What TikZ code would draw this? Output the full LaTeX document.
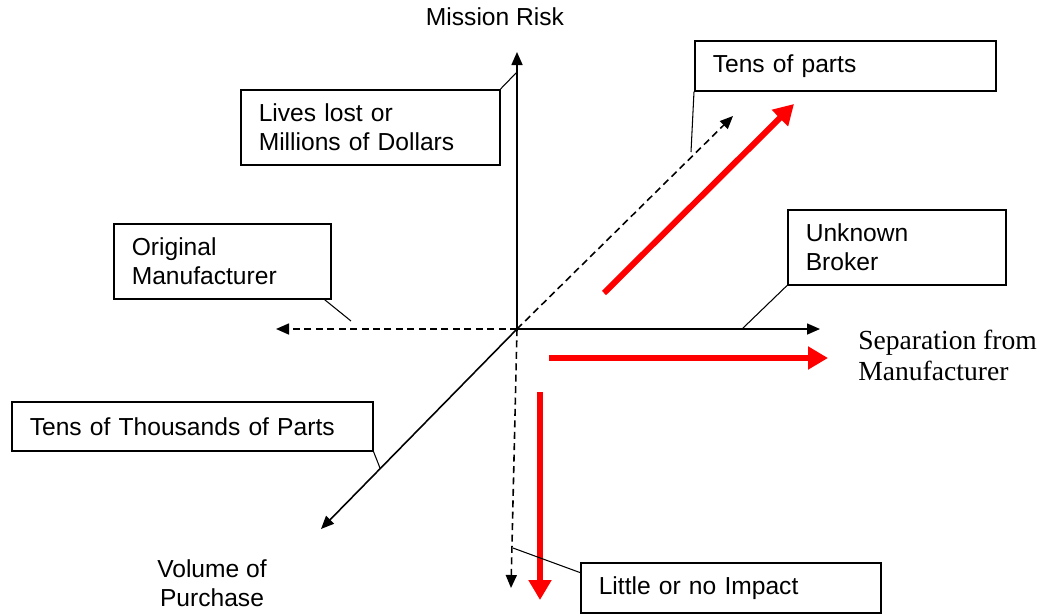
\documentclass[tikz,border=0pt]{standalone}
\usepackage{fontspec}
\setmainfont{Liberation Sans}
\newfontfamily\serifface{Liberation Serif}
\usetikzlibrary{arrows.meta}

\tikzset{
	txtbox/.style={draw, line width=0.9pt, anchor=north west, align=left, inner xsep=0.36cm, inner ysep=0pt, font=\fontsize{14}{16.5}\selectfont},
	axisline/.style={line width=0.9pt, -{Triangle[length=0.26cm, width=0.22cm]}},
	dashaxis/.style={axisline, dash pattern=on 4pt off 2.5pt},
	redarrow/.style={red, line width=3.4pt, -{Triangle[length=0.4cm, width=0.44cm]}},
	callout/.style={line width=0.6pt}
}

\begin{document}
\begin{tikzpicture}[x=0.02cm, y=-0.02cm]
		\useasboundingbox (0,0) rectangle (1041,613);
		
		% axes
		\coordinate (O) at (517,329);
		\coordinate (up) at (517,52);
		\coordinate (right) at (820,329);
		\coordinate (left) at (276,329);
		\coordinate (down) at (511,588);
		\coordinate (back) at (733,116);
		\coordinate (front) at (321,529);
		\draw[axisline] (O) -- (up);
		\draw[axisline] (O) -- (right);
		\draw[axisline] (O) -- (front);
		\draw[dashaxis] (O) -- (left);
		\draw[dashaxis] (O) -- (down);
		\draw[dashaxis] (O) -- (back);
		
		% red arrows
		\coordinate (r1s) at (604,293);
		\coordinate (r1e) at (794,104);
		\coordinate (r2s) at (549,358);
		\coordinate (r2e) at (828,358);
		\coordinate (r3s) at (540,392);
		\coordinate (r3e) at (540,600);
		\draw[redarrow] (r1s) -- (r1e);
		\draw[redarrow] (r2s) -- (r2e);
		\draw[redarrow] (r3s) -- (r3e);
		
		% axis labels
		\node[font=\fontsize{14}{16.5}\selectfont] (risk) at (495,17) {Mission Risk};
		\node[font=\fontsize{14}{16.5}\selectfont, align=center] (volume) at (212,583) {Volume of\\Purchase};
		\node[font=\serifface\fontsize{15.7}{17.6}\selectfont, align=left, anchor=west, inner sep=0pt] (separation) at (858,355) {Separation from\\Manufacturer};
		
		% boxes
		\node[txtbox, text width=4.46cm, minimum height=1.5cm] (lives) at (240,89) {Lives lost or\\Millions of Dollars};
		\node[txtbox, text width=5.30cm, minimum height=1.0cm] (tens) at (694,40) {Tens of parts};
		\node[txtbox, text width=3.64cm, minimum height=1.5cm] (broker) at (787,209) {Unknown\\Broker};
		\node[txtbox, text width=3.62cm, minimum height=1.5cm] (original) at (113,223) {Original\\Manufacturer};
		\node[txtbox, text width=6.50cm, minimum height=0.98cm] (thousands) at (11,401) {Tens of Thousands of Parts};
		\node[txtbox, text width=5.28cm, minimum height=1.0cm] (impact) at (580,562) {Little or no Impact};
		
		% callouts
		\coordinate (c1) at (517,72);
		\coordinate (c2) at (691,152);
		\coordinate (c3) at (742,329);
		\coordinate (c4) at (351,321);
		\coordinate (c5) at (380,468);
		\coordinate (c6) at (513,548);
		\draw[callout] (lives.north east) -- (c1);
		\draw[callout] (tens.south west) -- (c2);
		\draw[callout] (broker.south west) -- (c3);
		\draw[callout] ([xshift=-4]original.south east) -- (c4);
		\draw[callout] (thousands.south east) -- (c5);
		\draw[callout] ([yshift=-6]impact.north west) -- (c6);
\end{tikzpicture}
\end{document}
